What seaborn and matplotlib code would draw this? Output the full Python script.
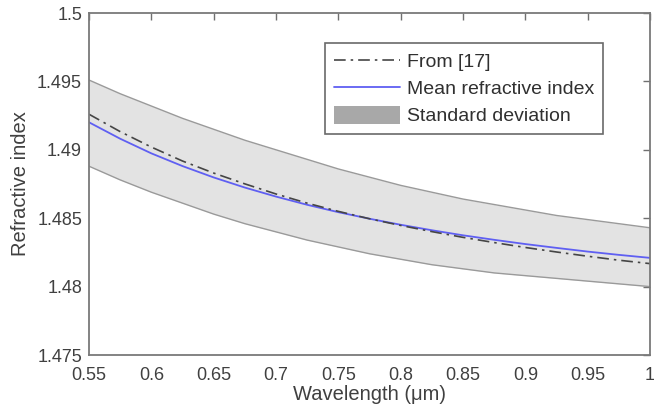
import numpy as np
import pandas as pd
import matplotlib
matplotlib.use("Agg")
import matplotlib.pyplot as plt
from matplotlib.lines import Line2D
from matplotlib.patches import Patch
import seaborn as sns

# ---- data ----
wavelength = [0.55, 0.575, 0.60, 0.625, 0.65, 0.675, 0.70, 0.725, 0.75, 0.775,
              0.80, 0.825, 0.85, 0.875, 0.90, 0.925, 0.95, 0.975, 1.00]
mean_index = [1.49201, 1.49081, 1.48974, 1.48881, 1.48798, 1.48724, 1.48658, 1.48598, 1.48544,
              1.48496, 1.48452, 1.48412, 1.48375, 1.48342, 1.48311, 1.48283, 1.48256, 1.48232,
              1.48210]
upper_std = [1.4951, 1.4941, 1.4932, 1.4923, 1.4915, 1.4907, 1.4900, 1.4893, 1.4886, 1.4880,
             1.4874, 1.4869, 1.4864, 1.4860, 1.4856, 1.4852, 1.4849, 1.4846, 1.4843]
lower_std = [1.4888, 1.4878, 1.4869, 1.4861, 1.4853, 1.4846, 1.4840, 1.4834, 1.4829, 1.4824,
             1.4820, 1.4816, 1.4813, 1.4810, 1.4808, 1.4806, 1.4804, 1.4802, 1.4800]
ref17_index = [1.49260, 1.49133, 1.49020, 1.48918, 1.48830, 1.48751, 1.48677, 1.48610, 1.48550,
               1.48496, 1.48447, 1.48402, 1.48360, 1.48322, 1.48286, 1.48253, 1.48222, 1.48193,
               1.48168]
x_ticks = [0.55, 0.6, 0.65, 0.7, 0.75, 0.8, 0.85, 0.9, 0.95, 1.0]
x_tick_labels = ["0.55", "0.6", "0.65", "0.7", "0.75", "0.8", "0.85", "0.9", "0.95", "1"]
y_ticks = [1.475, 1.48, 1.485, 1.49, 1.495, 1.5]
y_tick_labels = ["1.475", "1.48", "1.485", "1.49", "1.495", "1.5"]
legend_labels = ["From [17]", "Mean refractive index", "Standard deviation"]

sns.set_style("white")
plt.rcParams["font.family"] = ["Liberation Sans", "DejaVu Sans"]
fs_tick, fs_lab, fs_leg = 13, 14.5, 14

df = pd.DataFrame({"wl": wavelength, "mean": mean_index, "up": upper_std,
                   "lo": lower_std, "ref": ref17_index})

fig = plt.figure(figsize=(6.54, 4.17), dpi=100)
ax = fig.add_axes([89 / 654, 1 - 355 / 417, 561 / 654, 342 / 417])

ax.fill_between(df["wl"], df["lo"], df["up"], color="#e3e3e3", linewidth=0, zorder=1)
sns.lineplot(data=df, x="wl", y="up", ax=ax, color="#9a9a9a", linewidth=1.0, zorder=2)
sns.lineplot(data=df, x="wl", y="lo", ax=ax, color="#9a9a9a", linewidth=1.0, zorder=2)
sns.lineplot(data=df, x="wl", y="mean", ax=ax, color="#5f5ff2", linewidth=1.3, zorder=3)
sns.lineplot(data=df, x="wl", y="ref", ax=ax, color="#454545", linewidth=1.2,
             linestyle=(0, (7, 3, 1.5, 3)), zorder=4)

ax.set_xlim(0.55, 1.0)
ax.set_ylim(1.475, 1.5)
ax.set_xticks(x_ticks)
ax.set_xticklabels(x_tick_labels)
ax.set_yticks(y_ticks)
ax.set_yticklabels(y_tick_labels)
ax.tick_params(direction="in", length=5, width=1, color="#707070",
               top=True, right=True, labelsize=fs_tick, labelcolor="#404040")
ax.tick_params(axis="x", pad=9)
ax.tick_params(axis="y", pad=5)
for s in ax.spines.values():
    s.set_color("#7a7a7a")
    s.set_linewidth(1.3)
    s.set_zorder(5)
ax.set_xlabel("Wavelength (μm)", fontsize=fs_lab, color="#404040", labelpad=0)
ax.set_ylabel("Refractive index", fontsize=fs_lab, color="#404040", labelpad=5)

handles = [Line2D([], [], color="#454545", linewidth=1.2, linestyle=(0, (7, 3, 1.5, 3))),
           Line2D([], [], color="#5f5ff2", linewidth=1.3),
           Patch(facecolor="#a8a8a8", edgecolor="none")]
leg = ax.legend(handles, legend_labels, loc="upper right", bbox_to_anchor=(0.916, 0.912),
                fontsize=fs_leg, frameon=True, fancybox=False, framealpha=1,
                edgecolor="#6a6a6a", handlelength=3.4, handleheight=1.0, handletextpad=0.35,
                labelspacing=0.4, borderpad=0.45, borderaxespad=0)
leg.get_frame().set_linewidth(1.2)
for t in leg.get_texts():
    t.set_color("#303030")

fig.savefig("out.png", dpi=100, facecolor="white")
